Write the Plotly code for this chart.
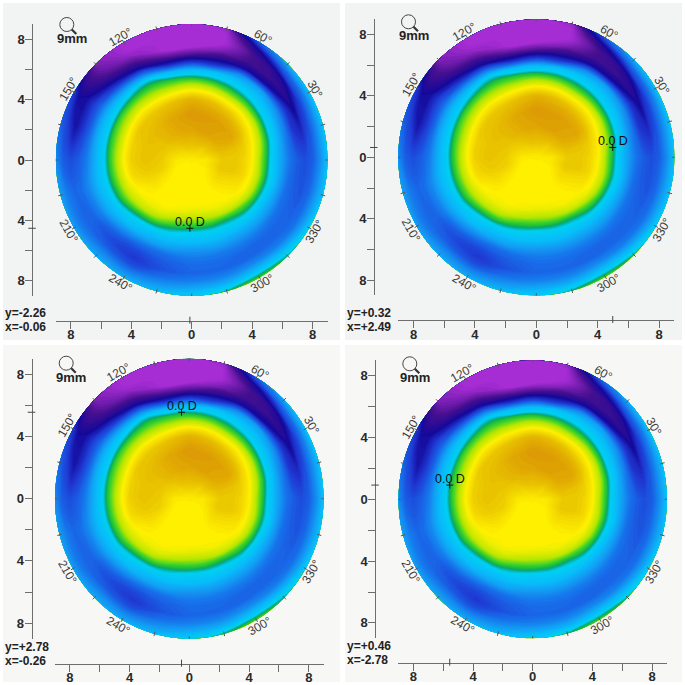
import math
import plotly.graph_objects as go

RADII = [0.02, 1, 2, 3, 3.5, 4, 4.5, 5, 5.5, 6, 6.5, 7, 7.5, 8, 8.5, 9]
ANGLES = list(range(0, 361, 15))
MAP_LEVELS = [
    [1.9, 1.8, 1.2, 1.2, 1.4, 1.9, 3.0, 3.9, 5.0, 5.8, 6.7, 7.2, 7.5, 7.2, 6.2, 5.0],
    [1.9, 1.5, 0.9, 1.0, 1.2, 1.7, 2.6, 3.6, 4.6, 5.6, 6.7, 8.0, 8.3, 7.4, 6.2, 5.0],
    [1.9, 1.3, 0.5, 0.3, 0.7, 1.4, 2.2, 3.3, 4.4, 5.2, 6.2, 8.0, 9.2, 8.0, 6.6, 5.0],
    [1.9, 1.3, 0.3, 0.2, 0.5, 1.2, 2.0, 3.2, 4.2, 5.0, 5.8, 8.8, 9.6, 9.3, 7.2, 5.5],
    [1.9, 1.1, 0.2, 0.1, 0.4, 1.0, 2.0, 3.2, 4.1, 4.9, 6.2, 9.0, 9.8, 9.9, 9.2, 7.2],
    [1.9, 1.0, 0.2, 0.05, 0.3, 0.8, 1.8, 3.0, 4.0, 5.0, 8.0, 9.5, 10.5, 11, 11, 10.8],
    [1.9, 1.0, 0.3, 0.0, 0.2, 0.6, 1.7, 2.9, 3.9, 5.3, 8.0, 10, 11, 11, 11, 11],
    [1.9, 1.0, 0.3, 0.2, 0.5, 0.9, 1.9, 3.0, 3.8, 5.2, 8.3, 10, 11, 11, 11, 11],
    [1.9, 1.1, 0.5, 0.4, 0.7, 1.1, 1.9, 2.9, 3.6, 4.3, 6.5, 9.0, 10, 10.7, 11, 11],
    [1.9, 1.3, 0.7, 0.7, 0.9, 1.1, 1.8, 2.8, 3.6, 4.5, 6.0, 8.0, 9.3, 10, 10.3, 10.5],
    [1.9, 1.4, 1.0, 0.9, 1.0, 1.1, 1.9, 2.9, 3.6, 4.7, 5.6, 7.0, 8.0, 8.8, 9.0, 8.0],
    [1.9, 1.6, 1.1, 1.0, 1.1, 1.3, 2.0, 3.0, 3.7, 4.8, 5.6, 7.0, 8.0, 8.7, 7.8, 7.0],
    [1.9, 1.8, 1.2, 1.0, 1.1, 1.3, 2.0, 3.0, 3.8, 4.8, 5.6, 6.6, 7.2, 7.5, 7.2, 6.2],
    [1.9, 1.9, 1.3, 1.2, 1.3, 1.5, 2.2, 3.1, 3.9, 4.8, 5.4, 6.2, 6.8, 7.0, 6.6, 5.8],
    [1.9, 2.0, 1.7, 1.6, 1.8, 2.0, 2.5, 3.3, 4.1, 5.0, 5.6, 6.5, 7.0, 7.0, 6.6, 5.8],
    [1.9, 2.0, 2.0, 2.0, 2.0, 2.2, 2.8, 3.8, 4.6, 5.2, 6.2, 7.2, 7.6, 7.2, 6.3, 5.6],
    [1.9, 2.0, 2.0, 2.0, 2.0, 2.4, 3.2, 4.1, 5.0, 5.6, 6.8, 7.6, 8.0, 7.5, 6.4, 5.5],
    [1.9, 2.0, 2.0, 2.0, 2.2, 2.9, 3.7, 4.4, 5.1, 5.8, 6.8, 7.2, 7.4, 6.8, 6.0, 5.2],
    [1.9, 2.0, 2.0, 2.0, 2.4, 3.1, 3.85, 4.7, 5.2, 6.0, 6.6, 6.9, 7.0, 6.5, 5.6, 4.7],
    [1.9, 2.0, 2.0, 2.0, 2.3, 3.0, 3.85, 4.6, 5.2, 5.9, 6.6, 6.9, 7.0, 6.4, 5.4, 4.0],
    [1.9, 2.0, 2.0, 2.0, 2.1, 2.7, 3.8, 4.5, 5.2, 5.9, 6.6, 7.0, 7.0, 6.2, 5.0, 3.5],
    [1.9, 2.0, 1.7, 1.9, 2.0, 2.4, 3.4, 4.2, 5.1, 5.8, 6.6, 7.0, 7.0, 6.5, 5.3, 4.0],
    [1.9, 1.9, 1.4, 1.6, 1.7, 2.1, 3.0, 4.0, 5.0, 5.8, 6.7, 7.0, 7.1, 6.8, 5.8, 4.6],
    [1.9, 1.8, 1.1, 1.2, 1.4, 2.0, 2.9, 3.9, 4.8, 5.8, 6.8, 7.2, 7.4, 7.0, 6.0, 5.0],
]
COLOR_STOPS = [
    (0, "#dc9a05"), (1, "#e8c200"), (2, "#fff000"), (3, "#b4e600"), (3.6, "#30d030"),
    (3.9, "#18b840"), (4.0, "#10a060"), (4.15, "#00b4b0"), (4.4, "#00d0f0"), (5.2, "#08bcfa"), (6, "#1498f2"),
    (7, "#1868e8"), (8, "#2038d2"), (9, "#14089a"), (10, "#481090"), (11, "#a62cd4"),
]
READOUT_X = [-0.06, 2.49, -0.26, -2.78]
READOUT_Y = [-2.26, 0.32, 2.78, 0.46]
READOUT_X_TXT = ["x=-0.06", "x=+2.49", "x=-0.26", "x=-2.78"]
READOUT_Y_TXT = ["y=-2.26", "y=+0.32", "y=+2.78", "y=+0.46"]
AXIS_TICKS = [-8, -6, -4, -2, 0, 2, 4, 6, 8]
AXIS_LABELS = ["8", "", "4", "", "0", "", "4", "", "8"]
POLAR_LABELS = list(range(0, 360, 30))

# Panel geometry in pixels: centre, px per mm, left-axis x, bottom-axis y, card box
W = 685
PANELS = [
    dict(cx=191.7, cy=160.0, sx=15.1, sy=15.1, ax=32.3, ay=320.7, box=(3, 3, 340, 340), bg="#f2f3f3"),
    dict(cx=536.3, cy=157.3, sx=15.35, sy=15.35, ax=374.0, ay=320.0, box=(345, 3, 682, 340), bg="#f2f3f3"),
    dict(cx=189.3, cy=498.7, sx=14.93, sy=15.55, ax=31.7, ay=663.7, box=(3, 345, 340, 682), bg="#f7f7f5"),
    dict(cx=532.7, cy=499.3, sx=14.92, sy=15.45, ax=375.3, ay=662.7, box=(345, 345, 682, 682), bg="#f7f7f5"),
]
FONT = "Liberation Sans"
AXC = "#6e6e6e"


def px(v):
    return v / W


def py(v):
    return 1 - v / W


z = [row[:] for row in MAP_LEVELS] + [MAP_LEVELS[0][:]]
gx = [[r * math.cos(math.radians(t)) for r in RADII] for t in ANGLES]
gy = [[r * math.sin(math.radians(t)) for r in RADII] for t in ANGLES]
scale = [[lv / 11, c] for lv, c in COLOR_STOPS]

fig = go.Figure()
layout = dict(
    width=W, height=W, margin=dict(l=0, r=0, t=0, b=0), paper_bgcolor="white",
    plot_bgcolor="rgba(0,0,0,0)", showlegend=False, autosize=False,
)
shapes, notes = [], []

for i, p in enumerate(PANELS):
    n = i + 1
    xa, ya = f"x{n}", f"y{n}"
    x0, y0, x1, y1 = p["box"]
    shapes.append(dict(type="rect", xref="paper", yref="paper", x0=px(x0), x1=px(x1), y0=py(y0), y1=py(y1),
                       fillcolor=p["bg"], line=dict(width=0), layer="below"))
    common = dict(range=[-9, 9], tickvals=AXIS_TICKS, ticktext=AXIS_LABELS, ticks="outside", ticklen=7,
                  tickwidth=1, tickcolor=AXC, showline=True, linecolor=AXC, linewidth=1, showgrid=False,
                  zeroline=False, tickfont=dict(family=FONT, size=13, color="#2a2a2a", weight="bold"),
                  anchor="free", fixedrange=True, automargin=False)
    layout[f"xaxis{n}"] = dict(domain=[px(p["cx"] - 9 * p["sx"]), px(p["cx"] + 9 * p["sx"])],
                               position=py(p["ay"]), side="bottom", ticklabelstandoff=-5, **common)
    layout[f"yaxis{n}"] = dict(domain=[py(p["cy"] + 9 * p["sy"]), py(p["cy"] - 9 * p["sy"])],
                               position=px(p["ax"]), side="left", ticklabelstandoff=-2, **common)

    cid = f"map{n}"
    hidden = dict(showgrid=False, showline=False, showticklabels="none", startline=False, endline=False,
                  minorgridcount=0, smoothing=1)
    fig.add_trace(go.Carpet(carpet=cid, a=RADII, b=ANGLES, x=gx, y=gy, xaxis=xa, yaxis=ya,
                            aaxis=hidden, baxis=hidden))
    fig.add_trace(go.Contourcarpet(carpet=cid, a=RADII, b=ANGLES, z=z, xaxis=xa, yaxis=ya, autocontour=False,
                                   zmin=0, zmax=11, colorscale=scale, showscale=False,
                                   contours=dict(start=0, end=11, size=0.12, coloring="fill", showlines=False),
                                   line=dict(width=0)))

    # rim ticks every 15 degrees
    tx, ty = [], []
    for t in range(0, 360, 15):
        c, s = math.cos(math.radians(t)), math.sin(math.radians(t))
        tx += [8.85 * c, 9.15 * c, None]
        ty += [8.85 * s, 9.15 * s, None]
    fig.add_trace(go.Scatter(x=tx, y=ty, mode="lines", xaxis=xa, yaxis=ya, cliponaxis=False,
                             line=dict(color="#555555", width=1), hoverinfo="skip"))

    # polar labels
    for t in POLAR_LABELS:
        rot = ((90 - t + 90) % 180) - 90
        notes.append(dict(x=9.42 * math.cos(math.radians(t)), y=9.42 * math.sin(math.radians(t)),
                          xref=xa, yref=ya, text=f"{t}°", showarrow=False, textangle=rot,
                          font=dict(family=FONT, size=12, color="#3a3a3a")))

    # measuring cursor and readouts
    mx, my = 2 * READOUT_X[i], 2 * READOUT_Y[i]
    fig.add_trace(go.Scatter(x=[mx], y=[my], mode="markers", xaxis=xa, yaxis=ya, hoverinfo="skip",
                             marker=dict(symbol="cross-thin", size=5, line=dict(color="#111111", width=1))))
    notes.append(dict(x=mx, y=my, xref=xa, yref=ya, text="0.0 D", showarrow=False, yshift=6,
                      font=dict(family=FONT, size=12.5, color="#101010")))
    shapes.append(dict(type="line", xref=xa, yref="paper", x0=mx, x1=mx, y0=py(p["ay"] - 4), y1=py(p["ay"] + 3),
                       line=dict(color="#444444", width=1)))
    shapes.append(dict(type="line", xref="paper", yref=ya, y0=my, y1=my, x0=px(p["ax"] - 4), x1=px(p["ax"] + 3.5),
                       line=dict(color="#444444", width=1)))
    notes.append(dict(x=px(x0), y=py(p["ay"] - 7.5), xref="paper", yref="paper", text=READOUT_Y_TXT[i],
                      showarrow=False, xanchor="left", font=dict(family=FONT, size=12, color="#222222", weight="bold")))
    notes.append(dict(x=px(x0), y=py(p["ay"] + 6.5), xref="paper", yref="paper", text=READOUT_X_TXT[i],
                      showarrow=False, xanchor="left", font=dict(family=FONT, size=12, color="#222222", weight="bold")))

    # magnifier icon and zoom label
    ix, iy = p["ax"] + 34.5, p["cy"] - 135.5
    shapes.append(dict(type="circle", xref="paper", yref="paper", x0=px(ix - 7), x1=px(ix + 7), y0=py(iy + 7), y1=py(iy - 7),
                       line=dict(color="#444444", width=1)))
    shapes.append(dict(type="line", xref="paper", yref="paper", x0=px(ix + 5), x1=px(ix + 9.5), y0=py(iy + 5), y1=py(iy + 9.5),
                       line=dict(color="#333333", width=2.2)))
    notes.append(dict(x=px(ix + 5), y=py(iy + 14), xref="paper", yref="paper", text="9mm", showarrow=False,
                      xanchor="center", yanchor="middle",
                      font=dict(family=FONT, size=13, color="#222222", weight="bold")))

layout["shapes"] = shapes
layout["annotations"] = notes
fig.update_layout(**layout)
fig.write_html("out.html", config=dict(displayModeBar=False),
               post_script="document.body.style.margin='0';document.documentElement.style.overflow='hidden';")
